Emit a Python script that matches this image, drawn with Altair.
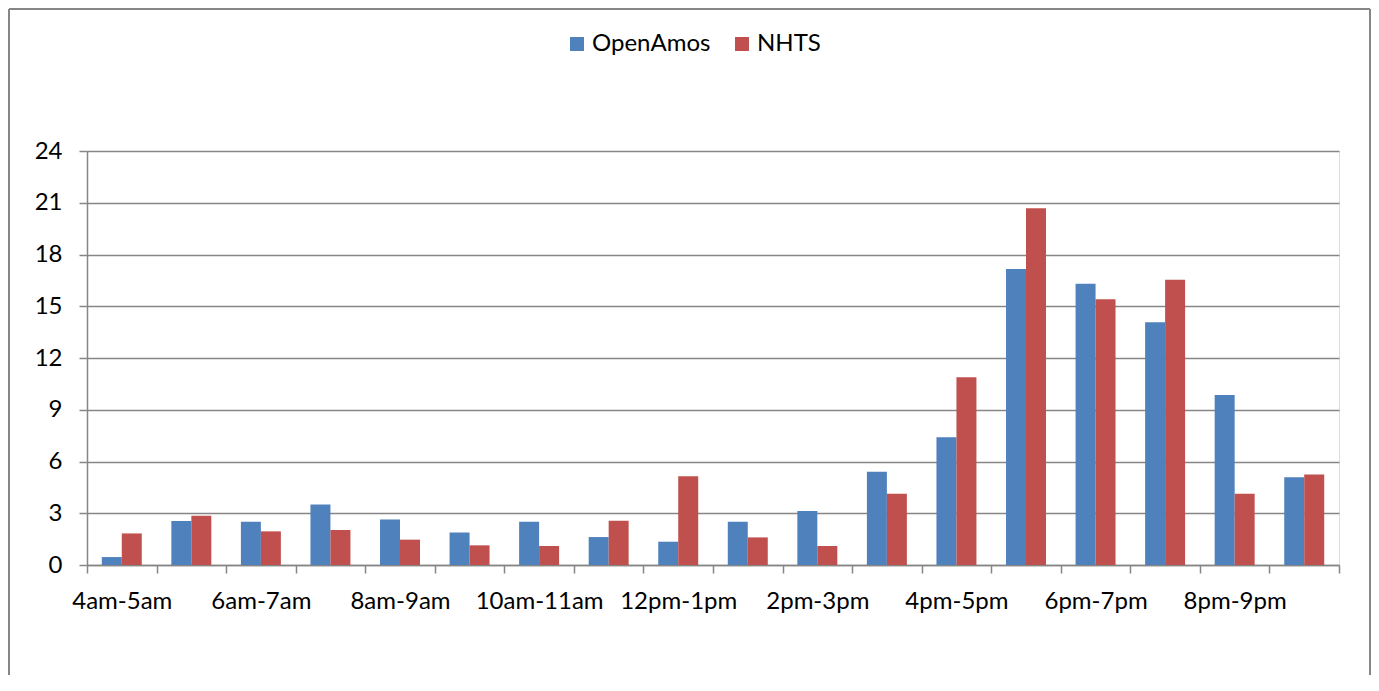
import altair as alt
import pandas as pd

categories = ["4am-5am", "5am-6am", "6am-7am", "7am-8am", "8am-9am", "9am-10am",
              "10am-11am", "11am-12pm", "12pm-1pm", "1pm-2pm", "2pm-3pm", "3pm-4pm",
              "4pm-5pm", "5pm-6pm", "6pm-7pm", "7pm-8pm", "8pm-9pm", "9pm-10pm"]
openamos = [0.46, 2.55, 2.51, 3.51, 2.64, 1.89, 2.51, 1.62, 1.35, 2.51, 3.13, 5.41,
            7.41, 17.16, 16.31, 14.07, 9.85, 5.08]
nhts = [1.83, 2.86, 1.95, 2.03, 1.47, 1.14, 1.10, 2.57, 5.15, 1.60, 1.10, 4.13,
        10.89, 20.68, 15.41, 16.54, 4.13, 5.25]
series = ["OpenAmos", "NHTS"]
colors = ["#4F81BD", "#C0504D"]
y_ticks = [0, 3, 6, 9, 12, 15, 18, 21, 24]
shown_labels = categories[::2]

rows = []
for i, c in enumerate(categories):
    rows.append({"cat": c, "series": "OpenAmos", "value": openamos[i]})
    rows.append({"cat": c, "series": "NHTS", "value": nhts[i]})
df = pd.DataFrame(rows)

FONT = "Lato"
GRID = "#868686"
W, H = 1252, 414

label_list = "[" + ",".join("'" + s + "'" for s in shown_labels) + "]"

bars = alt.Chart(df).mark_bar().encode(
    x=alt.X("cat:N", sort=categories,
            scale=alt.Scale(paddingInner=0, paddingOuter=0),
            axis=alt.Axis(title=None, labelAngle=0, tickBand="extent",
                          labelExpr="indexof(" + label_list + ", datum.value) >= 0 ? datum.label : ''",
                          labelOverlap=False, labelFont=FONT, labelFontSize=24,
                          labelColor="#000000", labelPadding=16, tickSize=8,
                          tickColor=GRID, tickWidth=1.5, domainColor=GRID,
                          domainWidth=1.5, grid=False)),
    xOffset=alt.XOffset("series:N", sort=series,
                        scale=alt.Scale(paddingInner=0, paddingOuter=0.74)),
    y=alt.Y("value:Q", scale=alt.Scale(domain=[0, 24], nice=False),
            axis=alt.Axis(title=None, values=y_ticks, labelFont=FONT, labelFontSize=24,
                          labelColor="#000000", labelPadding=17, tickSize=8,
                          tickColor=GRID, tickWidth=1.5, domainColor=GRID,
                          domainWidth=1.5, gridColor=GRID, gridWidth=1.5)),
    color=alt.Color("series:N", sort=series,
                    scale=alt.Scale(domain=series, range=colors),
                    legend=alt.Legend(title=None, orient="none", direction="horizontal",
                                      legendX=478, legendY=-119, padding=0,
                                      symbolType="square", symbolSize=196,
                                      symbolStrokeWidth=0, labelFont=FONT,
                                      labelFontSize=24, labelColor="#000000",
                                      labelOffset=3, columnPadding=19)),
)

frame = pd.DataFrame({"k": [0]})
left = alt.Chart(frame).mark_rule(color=GRID, strokeWidth=2).encode(
    x=alt.value(-78), y=alt.value(-142), y2=alt.value(H + 110))
right = alt.Chart(frame).mark_rule(color=GRID, strokeWidth=2).encode(
    x=alt.value(1283), y=alt.value(-142), y2=alt.value(H + 110))
top = alt.Chart(frame).mark_rule(color=GRID, strokeWidth=2).encode(
    x=alt.value(-78), x2=alt.value(1283), y=alt.value(-142))

chart = alt.layer(bars, left, right, top).properties(
    width=W, height=H,
    padding={"left": 79, "top": 143, "right": 32, "bottom": 110},
    autosize=alt.AutoSizeParams(type="none"),
).configure_view(strokeWidth=0).configure(background="white")

chart.save("out.html", embed_options={"renderer": "svg", "actions": False})
